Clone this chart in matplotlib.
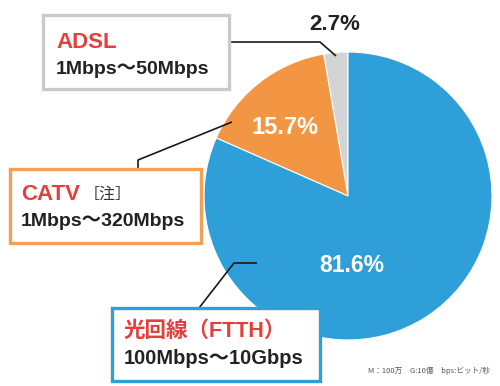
import matplotlib
matplotlib.use("Agg")
import matplotlib.pyplot as plt
from matplotlib.patches import Rectangle

plt.rcParams['font.family'] = ['Liberation Sans', 'Noto Sans CJK JP']

# data
labels = ['ADSL', 'CATV', '光回線（FTTH）']
shares = [2.7, 15.7, 81.6]
speeds = ['1Mbps〜50Mbps', '1Mbps〜320Mbps', '100Mbps〜10Gbps']
colors = ['#d3d4d6', '#f39643', '#2f9fda']
box_colors = ['#cacaca', '#f0a057', '#2f9fda']
RED = '#e2403a'
H = 386


def py(y):
    # pixel row -> data y
    return H - y


fig = plt.figure(figsize=(5.0, 3.86), dpi=100)
fig.patch.set_facecolor('white')
ax = fig.add_axes([0, 0, 1, 1])

ax.pie(shares, colors=colors, startangle=90, counterclock=True,
       center=(348, py(196)), radius=144,
       wedgeprops=dict(edgecolor='white', linewidth=0.8))
ax.set_xlim(0, 500)
ax.set_ylim(0, H)
ax.set_aspect('equal')
ax.axis('off')

# percentages
ax.text(335, py(25), f'{shares[0]}%', ha='center', va='center',
        fontsize=16, fontweight='bold', color='#222222')
ax.text(285, py(127), f'{shares[1]}%', ha='center', va='center',
        fontsize=17, fontweight='bold', color='white')
ax.text(352, py(265), f'{shares[2]}%', ha='center', va='center',
        fontsize=16.5, fontweight='bold', color='white')

# boxes (x0, y0, x1, y1) in pixels
boxes = [(43, 15, 229, 89), (10, 169, 201, 243), (112, 308, 320, 381)]
for (x0, y0, x1, y1), bc in zip(boxes, box_colors):
    ax.add_patch(Rectangle((x0, py(y1)), x1 - x0, y1 - y0, facecolor='white',
                           edgecolor=bc, linewidth=2.4, zorder=3))

# label text
ax.text(56, py(42), labels[0], ha='left', va='center', fontsize=16,
        fontweight='bold', color=RED, zorder=4)
ax.text(56, py(69), speeds[0], ha='left', va='center', fontsize=14,
        fontweight='bold', color='#222222', zorder=4)

ax.text(21, py(195), labels[1], ha='left', va='center', fontsize=16,
        fontweight='bold', color=RED, zorder=4)
ax.text(84, py(194), '［注］', ha='left', va='center', fontsize=11.5,
        color='#333333', zorder=4)
ax.text(21, py(222), speeds[1], ha='left', va='center', fontsize=14,
        fontweight='bold', color='#222222', zorder=4)

ax.text(124, py(331), labels[2], ha='left', va='center', fontsize=15.5,
        fontweight='bold', color=RED, zorder=4)
ax.text(124, py(359), speeds[2], ha='left', va='center', fontsize=14.5,
        fontweight='bold', color='#222222', zorder=4)

# leader lines
leaders = [
    [(229, 42), (320, 42), (336, 56)],
    [(138, 169), (138, 160), (232, 122)],
    [(199, 308), (234, 263), (257, 263)],
]
for pts in leaders:
    ax.plot([p[0] for p in pts], [py(p[1]) for p in pts], color='#1a1a1a',
            linewidth=1.2, zorder=2, solid_capstyle='butt')

ax.text(490, py(371), 'M：100万　G:10億　bps:ビット/秒', ha='right', va='center',
        fontsize=5.5, color='#555555',
        family=['Noto Sans CJK JP', 'DejaVu Sans'])

fig.savefig('out.png', dpi=100)
